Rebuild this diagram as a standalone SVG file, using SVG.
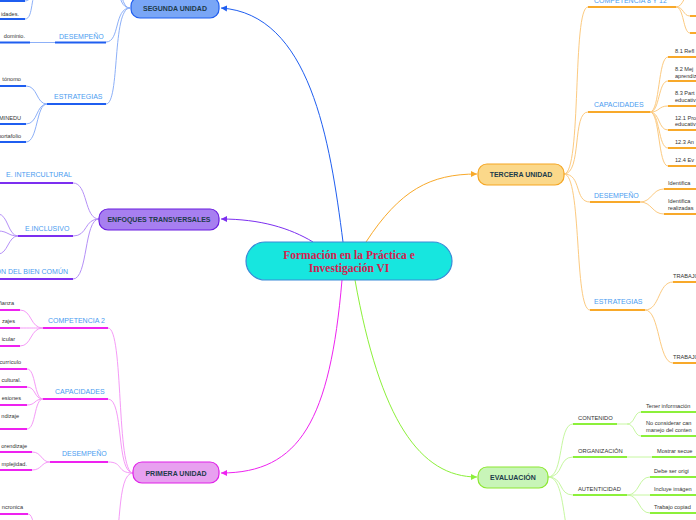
<svg xmlns="http://www.w3.org/2000/svg" width="696" height="520" viewBox="0 0 696 520">
<style>
.pill{stroke-width:1.2}
.pt{font-family:"Liberation Sans",Arial,sans-serif;font-weight:bold;font-size:7px;fill:#1d3b4a;text-anchor:middle}
.lb{font-family:"Liberation Sans",Arial,sans-serif;font-size:7px;fill:#4a9cf0}
.gl{font-family:"Liberation Sans",Arial,sans-serif;font-size:5.8px;fill:#333}
.ch{font-family:"Liberation Sans",Arial,sans-serif;font-size:5.6px;fill:#333}
.e{text-anchor:end}
.c{fill:none;stroke-width:1}
.u{fill:none;stroke-width:2}
.lbl{stroke:#1f5ef0}.lblc{stroke:#8db0f8}
.pu{stroke:#7c2ff0}.puc{stroke:#b590f7}
.mg{stroke:#ee22f0}.mgc{stroke:#f59af7}
.or{stroke:#f8a92a}.orc{stroke:#fcca80}
.gr{stroke:#8cf03a}.grc{stroke:#c6f7a0}
</style>
<defs>
<marker id="aB" markerWidth="7" markerHeight="7" refX="6" refY="3.5" orient="auto" markerUnits="userSpaceOnUse"><path d="M0,0.5 L6,3.5 L0,6.5 Z" fill="#1f5ef0"/></marker>
<marker id="aP" markerWidth="7" markerHeight="7" refX="6" refY="3.5" orient="auto" markerUnits="userSpaceOnUse"><path d="M0,0.5 L6,3.5 L0,6.5 Z" fill="#7c2ff0"/></marker>
<marker id="aM" markerWidth="7" markerHeight="7" refX="6" refY="3.5" orient="auto" markerUnits="userSpaceOnUse"><path d="M0,0.5 L6,3.5 L0,6.5 Z" fill="#ee22f0"/></marker>
<marker id="aO" markerWidth="7" markerHeight="7" refX="6" refY="3.5" orient="auto" markerUnits="userSpaceOnUse"><path d="M0,0.5 L6,3.5 L0,6.5 Z" fill="#f8a92a"/></marker>
<marker id="aG" markerWidth="7" markerHeight="7" refX="6" refY="3.5" orient="auto" markerUnits="userSpaceOnUse"><path d="M0,0.5 L6,3.5 L0,6.5 Z" fill="#8cf03a"/></marker>
</defs>

<g id="connectors">
<!-- main connectors -->
<path class="c lbl" d="M343,242 C330,140 310,14 221,8" marker-end="url(#aB)"/>
<path class="c pu" d="M313,242 C290,228 260,219 221,219" marker-end="url(#aP)"/>
<path class="c or" d="M366,242 C400,190 430,174 477,174" marker-end="url(#aO)"/>
<path class="c mg" d="M342,280 C330,420 300,473 221,473" marker-end="url(#aM)"/>
<path class="c gr" d="M355,280 C380,420 420,477 477,477" marker-end="url(#aG)"/>

<!-- SEGUNDA UNIDAD branches -->
<path class="c lblc" d="M130,8 C114,8 122,-30 106,-30"/>
<path class="c lblc" d="M130,8 C114,8 124,-60 106,-60"/>
<path class="c lblc" d="M130,8 C114,8 120,42 106,42"/>
<path class="c lblc" d="M130,8 C112,8 120,104 106,104"/>
<path class="c lblc" d="M25,1 C32,1 30,-8 38,-8"/>
<path class="c lblc" d="M25,19 C34,19 30,-8 38,-8"/>
<path class="u lbl" d="M0,1 H25 M0,19 H25"/>
<path class="u lbl" d="M55,42.5 H106 M0,42.5 H30"/>
<path class="c lblc" d="M30,42.5 H55"/>
<path class="u lbl" d="M47,104 H106"/>
<path class="c lblc" d="M47,104 C36,104 38,86 26,86 M47,104 C36,104 38,124 26,124 M47,104 C36,104 38,142 26,142"/>
<path class="u lbl" d="M0,86 H26 M0,124 H26 M0,142 H26"/>

<!-- ENFOQUES branches -->
<path class="c puc" d="M99,219 C84,219 88,183 73,183 M99,219 C84,219 88,236 73,236 M99,219 C84,219 88,279 73,279"/>
<path class="u pu" d="M0,183 H73 M18,236 H73 M0,279 H73"/>
<path class="c puc" d="M18,236 C8,236 8,214 -2,214 M18,236 C8,236 8,231 -2,231 M18,236 C8,236 8,254 -2,254"/>

<!-- PRIMERA branches -->
<path class="c mgc" d="M133,473 C116,473 124,328 108,328 M133,473 C116,473 124,399 108,399 M133,473 C116,473 124,462 108,462 M133,473 C116,473 122,540 112,560"/>
<path class="u mg" d="M43,328 H108 M43,399 H108 M50,462 H108"/>
<path class="c mgc" d="M43,328 C30,328 32,310 20,310 M43,328 C30,328 32,328 20,328 M43,328 C30,328 32,346 20,346"/>
<path class="u mg" d="M0,310 H20 M0,328 H20 M0,346 H20"/>
<path class="c mgc" d="M43,399 C34,399 36,369 27,369 M43,399 C34,399 36,387 27,387 M43,399 C34,399 36,405 27,405 M43,399 C34,399 36,429 27,429"/>
<path class="u mg" d="M0,369 H27 M0,387 H27 M0,405 H27 M0,429 H27"/>
<path class="c mgc" d="M50,462 C41,462 42,452 32,452 M50,462 C41,462 42,470 32,470"/>
<path class="u mg" d="M0,452 H32 M0,470 H32"/>
<path class="u mg" d="M0,514 H28"/>
<path class="c mgc" d="M28,514 C34,514 32,530 40,532"/>

<!-- TERCERA branches -->
<path class="c orc" d="M564,174 C582,174 572,7 588,7 M564,174 C582,174 572,112 588,112 M564,174 C582,174 574,202 590,202 M564,174 C582,174 574,310 590,310"/>
<path class="u or" d="M588,7 H676 M588,112 H650 M590,202 H640 M590,310 H645"/>
<path class="c orc" d="M676,7 C684,7 684,-8 692,-8 M676,7 C684,7 683,16 690,16 M676,7 C684,7 683,33 690,33"/>
<path class="u or" d="M690,16 H700 M690,33 H700"/>
<path class="c orc" d="M650,112 C660,112 658,57 668,57 M650,112 C660,112 658,81 668,81 M650,112 C660,112 658,106 668,106 M650,112 C660,112 658,130 668,130 M650,112 C660,112 658,148 668,148 M650,112 C660,112 658,166 668,166"/>
<path class="u or" d="M668,57 H700 M668,81 H700 M668,106 H700 M668,130 H700 M668,148 H700 M668,166 H700"/>
<path class="c orc" d="M640,202 C652,202 652,189 664,189 M640,202 C652,202 652,214 664,214"/>
<path class="u or" d="M664,189 H700 M664,214 H700"/>
<path class="c orc" d="M645,310 C660,310 658,282 673,282 M645,310 C660,310 658,363 673,363"/>
<path class="u or" d="M673,282 H700 M673,363 H700"/>

<!-- EVALUACION branches -->
<path class="c grc" d="M548,477 C564,477 558,424 573,424 M548,477 C564,477 558,457 573,457 M548,477 C564,477 558,495 573,495 M548,477 C560,477 562,500 566,525"/>
<path class="u gr" d="M573,424 H617 M573,457 H627 M573,495 H627"/>
<path class="c grc" d="M617,424 H627 M627,424 C635,424 634,412 641,412 M627,424 C635,424 634,436 641,436"/>
<path class="u gr" d="M641,412 H700 M641,436 H700"/>
<path class="c grc" d="M627,457 H652"/>
<path class="u gr" d="M652,457 H700"/>
<path class="c grc" d="M627,495 C640,495 638,477 650,477 M627,495 H650 M627,495 C640,495 638,513 650,513"/>
<path class="u gr" d="M650,477 H700 M650,495 H700 M650,513 H700"/>
</g>

<g id="central">
<rect x="246" y="242" width="206" height="38" rx="19" fill="#17e6df" stroke="#3a8ad8" stroke-width="1.2"/>
<text x="349" y="258.5" text-anchor="middle" font-family="'Liberation Serif','DejaVu Serif',serif" font-weight="bold" font-size="11.5" fill="#d6204e">Formación en la Práctica e</text>
<text x="349" y="272" text-anchor="middle" font-family="'Liberation Serif','DejaVu Serif',serif" font-weight="bold" font-size="11.5" fill="#d6204e">Investigación VI</text>
</g>

<g id="segunda-unidad">
<rect class="pill" x="131" y="-3" width="88" height="21" rx="9" fill="#79a6f6" stroke="#1f5ef0"/>
<text class="pt" x="175" y="10.5">SEGUNDA UNIDAD</text>
<text class="ch e" x="19" y="16">idades.</text>
<text class="ch e" x="25" y="38">dominio.</text>
<text class="lb" x="59" y="39">DESEMPEÑO</text>
<text class="lb" x="54" y="99">ESTRATEGIAS</text>
<text class="ch e" x="21" y="81">tónomo</text>
<text class="ch e" x="21" y="120">MINEDU</text>
<text class="ch e" x="21" y="138">portafolio</text>
</g>

<g id="enfoques-transversales">
<rect class="pill" x="99" y="209" width="120" height="21" rx="9" fill="#a77ff0" stroke="#6a1de0"/>
<text class="pt" x="159" y="221.5">ENFOQUES TRANSVERSALES</text>
<text class="lb" x="6" y="177">E. INTERCULTURAL</text>
<text class="lb" x="25" y="231">E.INCLUSIVO</text>
<text class="lb e" x="68" y="274">ÓN DEL BIEN COMÚN</text>
</g>

<g id="primera-unidad">
<rect class="pill" x="133" y="462" width="86" height="21" rx="9" fill="#e8a0f0" stroke="#e020e8"/>
<text class="pt" x="176" y="475.5">PRIMERA UNIDAD</text>
<text class="lb" x="48" y="323">COMPETENCIA 2</text>
<text class="lb" x="55" y="394">CAPACIDADES</text>
<text class="lb" x="62" y="456">DESEMPEÑO</text>
<text class="ch e" x="14" y="305">ñanza</text>
<text class="ch e" x="15" y="323">zajes</text>
<text class="ch e" x="15" y="341">icular</text>
<text class="ch e" x="21" y="364">currículo</text>
<text class="ch e" x="21" y="382">cultural.</text>
<text class="ch e" x="21" y="400">esiones</text>
<text class="ch e" x="19" y="418">ndizaje</text>
<text class="ch e" x="27" y="448">orendizaje</text>
<text class="ch e" x="27" y="466">mplejidad.</text>
<text class="ch e" x="23" y="509">ncronica</text>
</g>

<g id="tercera-unidad">
<rect class="pill" x="478" y="164" width="86" height="21" rx="9" fill="#fbd88a" stroke="#f5a623"/>
<text class="pt" x="521" y="176.5">TERCERA UNIDAD</text>
<text class="lb" x="594" y="3">COMPETENCIA 8 Y 12</text>
<text class="lb" x="594" y="107">CAPACIDADES</text>
<text class="lb" x="594" y="198">DESEMPEÑO</text>
<text class="lb" x="594" y="304">ESTRATEGIAS</text>
<text class="ch" x="675" y="53">8.1 Refl</text>
<text class="ch" x="675" y="71">8.2 Mej</text>
<text class="ch" x="675" y="77.5">aprendiz</text>
<text class="ch" x="675" y="95">8.3 Part</text>
<text class="ch" x="675" y="102">educativ</text>
<text class="ch" x="675" y="119.5">12.1 Pro</text>
<text class="ch" x="675" y="126">educativ</text>
<text class="ch" x="675" y="144">12.3 An</text>
<text class="ch" x="675" y="162">12.4 Ev</text>
<text class="ch" x="668" y="185">Identifica</text>
<text class="ch" x="668" y="203">Identifica</text>
<text class="ch" x="668" y="210">realizadas</text>
<text class="ch" x="673" y="278">TRABAJO</text>
<text class="ch" x="673" y="359">TRABAJO</text>
</g>

<g id="evaluacion">
<rect class="pill" x="478" y="467" width="70" height="21" rx="9" fill="#c8f5b8" stroke="#8ce830"/>
<text class="pt" x="513" y="480" font-size="7.5">EVALUACIÓN</text>
<text class="gl" x="578" y="420">CONTENIDO</text>
<text class="gl" x="578" y="452.5">ORGANIZACIÓN</text>
<text class="gl" x="578" y="491">AUTENTICIDAD</text>
<text class="ch" x="646" y="407.5">Tener información</text>
<text class="ch" x="646" y="425">No considerar can</text>
<text class="ch" x="646" y="431.5">manejo del conten</text>
<text class="ch" x="657" y="452.5">Mostrar secue</text>
<text class="ch" x="654" y="473">Debe ser origi</text>
<text class="ch" x="654" y="491">Incluye imágen</text>
<text class="ch" x="654" y="509">Trabajo copiad</text>
</g>
</svg>
